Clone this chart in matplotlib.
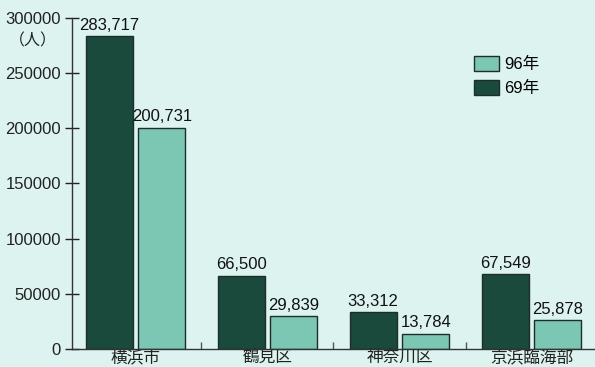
import matplotlib.pyplot as plt
import numpy as np

plt.rcParams['font.family'] = ['Liberation Sans', 'Noto Sans CJK JP']

areas = ['横浜市', '鶴見区', '神奈川区', '京浜臨海部']
y69 = [283717, 66500, 33312, 67549]
y96 = [200731, 29839, 13784, 25878]

bg = '#dcf3ef'
dark = '#1a4a3c'
light = '#7cc6b4'
edge = '#1f2d2a'

fig = plt.figure(figsize=(5.95, 3.67), dpi=100, facecolor=bg)
ax = fig.add_axes([0.121, 0.049, 0.879, 0.902], facecolor=bg)

x = np.arange(len(areas))
w = 0.356
b1 = ax.bar(x - 0.2, y69, w, color=dark, edgecolor=edge, linewidth=1, label='69年')
b2 = ax.bar(x + 0.2, y96, w, color=light, edgecolor=edge, linewidth=1, label='96年')

for bars, vals in ((b1, y69), (b2, y96)):
    for r, v in zip(bars, vals):
        ax.text(r.get_x() + r.get_width() / 2, v + 3000, f'{v:,}',
                ha='center', va='bottom', fontsize=12, color='#111111', clip_on=False)

ax.set_xlim(-0.481, 3.481)
ax.set_ylim(0, 300000)
ax.set_yticks(range(0, 300001, 50000))
ax.set_yticklabels([str(v) for v in range(0, 300001, 50000)], fontsize=12)
ax.tick_params(axis='y', direction='inout', length=10, width=1, pad=3, colors='#222222')
ax.set_xticks(x)
ax.set_xticklabels(areas, fontsize=12)
ax.tick_params(axis='x', length=0, pad=0.5, colors='#222222')
ax.set_xticks([0.5, 1.5, 2.5], minor=True)
ax.tick_params(axis='x', which='minor', direction='in', length=5, width=1, color='#555555')

for s in ['top', 'right']:
    ax.spines[s].set_visible(False)
for s in ['left', 'bottom']:
    ax.spines[s].set_color('#333333')
    ax.spines[s].set_linewidth(1)

ax.text(-0.075, 0.93, '（人）', transform=ax.transAxes, ha='center', va='center',
        fontsize=11.5, color='#222222')

ax.legend(handles=[b2, b1], loc='upper left', bbox_to_anchor=(0.74, 0.93),
          frameon=False, fontsize=12, handlelength=1.5, handleheight=1.0,
          handletextpad=0.3, labelspacing=0.45)

fig.savefig('out.png', dpi=100, facecolor=bg)
